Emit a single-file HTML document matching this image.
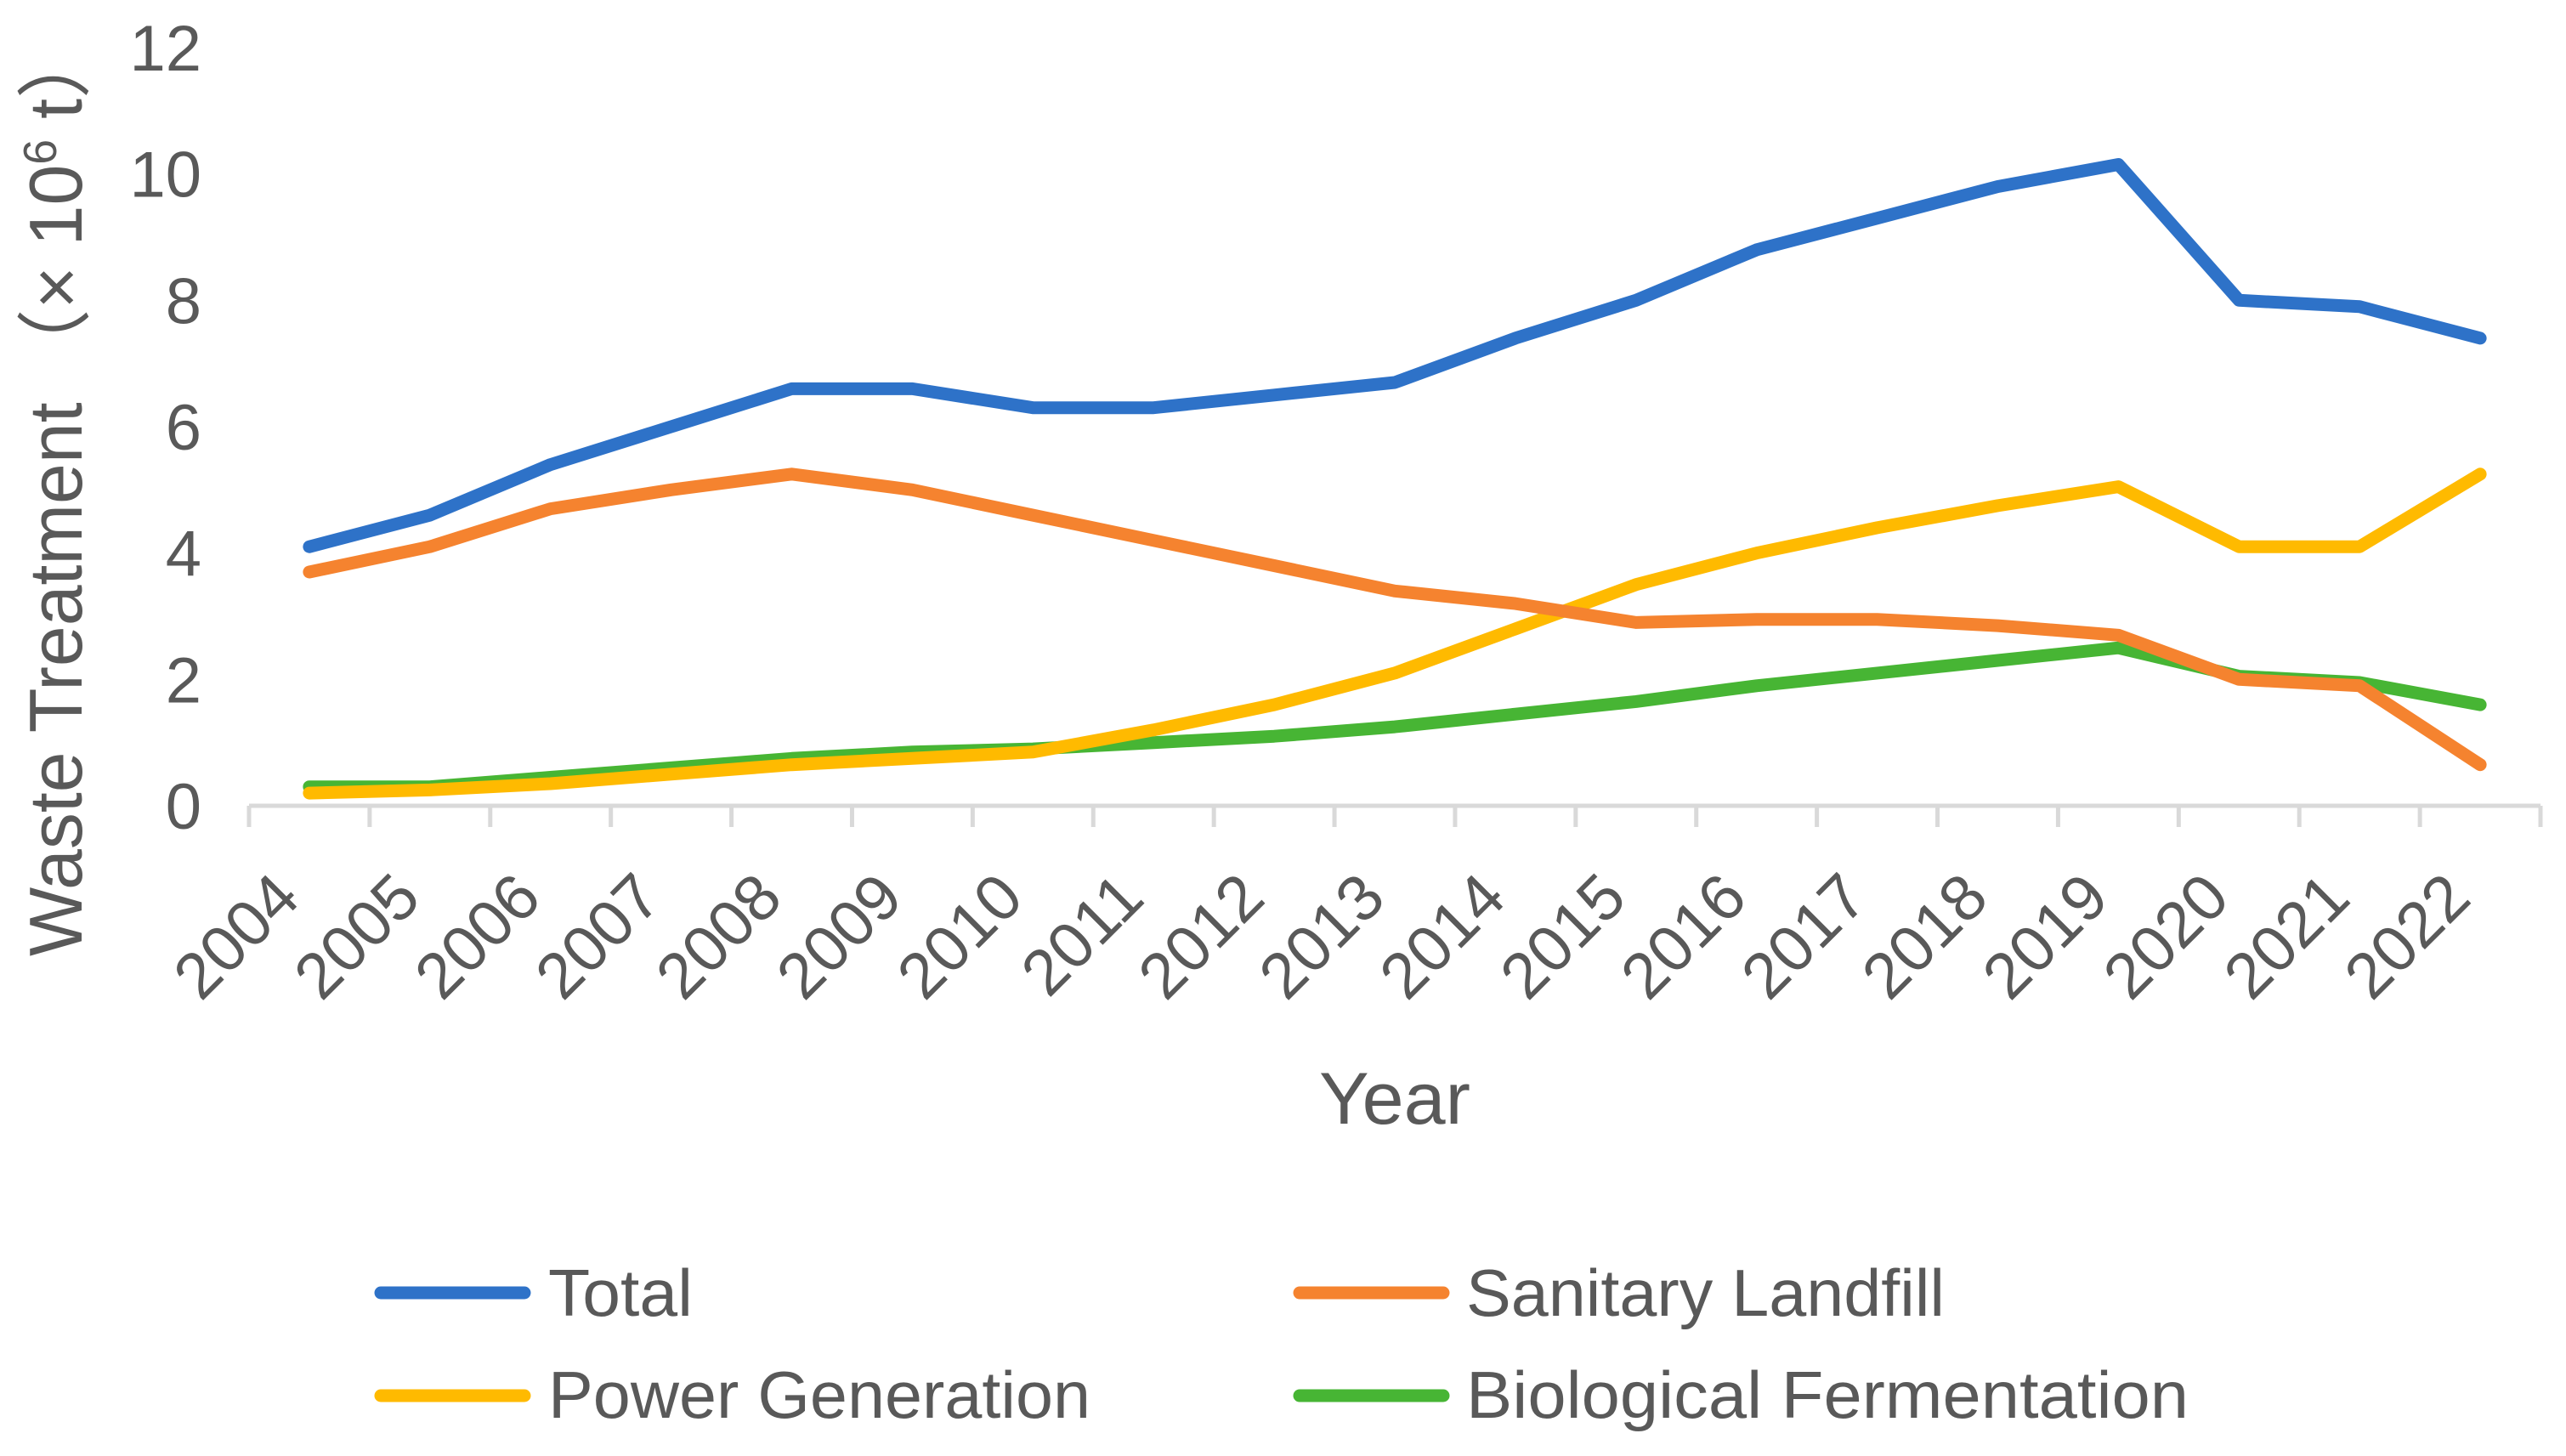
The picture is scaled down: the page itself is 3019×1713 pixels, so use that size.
<!DOCTYPE html>
<html><head><meta charset="utf-8"><style>
html,body{margin:0;padding:0;background:#fff}
svg{display:block}
text{font-family:"Liberation Sans","Noto Sans CJK SC",sans-serif;fill:#595959}
</style></head><body>
<svg id="chart" width="3019" height="1713" viewBox="0 0 3019 1713" xmlns="http://www.w3.org/2000/svg">
<g id="axes"></g><g id="series"></g>
<text transform="translate(96,1125) rotate(-90)" font-size="88" textLength="1095" lengthAdjust="spacingAndGlyphs">Waste Treatment （× 10<tspan font-size="55" dy="-30">6</tspan><tspan dy="30"> t）</tspan></text>
<text x="1641" y="1322" font-size="86" text-anchor="middle" textLength="178" lengthAdjust="spacingAndGlyphs">Year</text>
<g id="legend"></g>
</svg>
<script>
const categories = ["2004","2005","2006","2007","2008","2009","2010","2011","2012","2013","2014","2015","2016","2017","2018","2019","2020","2021","2022"];
const totalValues = [4.1,4.6,5.4,6.0,6.6,6.6,6.3,6.3,6.5,6.7,7.4,8.0,8.8,9.3,9.8,10.15,8.0,7.9,7.4];
const landfillValues = [3.7,4.1,4.7,5.0,5.25,5.0,4.6,4.2,3.8,3.4,3.2,2.9,2.95,2.95,2.85,2.7,2.0,1.9,0.65];
const powerValues = [0.2,0.25,0.35,0.5,0.65,0.75,0.85,1.2,1.6,2.1,2.8,3.5,4.0,4.4,4.75,5.05,4.1,4.1,5.25];
const bioValues = [0.3,0.3,0.45,0.6,0.75,0.85,0.9,1.0,1.1,1.25,1.45,1.65,1.9,2.1,2.3,2.5,2.05,1.95,1.6];
const yTicks = [0,2,4,6,8,10,12];
const seriesNames = ["Total","Sanitary Landfill","Power Generation","Biological Fermentation"];

const NS="http://www.w3.org/2000/svg";
const X0=293,X1=2989,Y0=948,Y12=56;
const band=(X1-X0)/categories.length;
function xScale(i){return X0+band*(i+0.5);}
function yScale(v){return Y0-(Y0-Y12)*v/12;}
function mk(tag,attrs,parent){const e=document.createElementNS(NS,tag);for(const k in attrs)e.setAttribute(k,attrs[k]);parent.appendChild(e);return e;}
const axes=document.getElementById('axes');
const axisLine=mk('line',{x1:X0,x2:X1,y1:Y0,y2:Y0,stroke:'#d9d9d9','stroke-width':5},axes);


for(let i=0;i<=categories.length;i++){
  const x=X0+band*i;
  const t=mk('line',{x1:x,x2:x,y1:Y0,y2:Y0+25,stroke:'#d9d9d9','stroke-width':5},axes);
  
  
}
categories.forEach((c,i)=>{
  const x=xScale(i)-8,y=1060;
  const t=mk('text',{x:x,y:y,'font-size':76,'text-anchor':'end',transform:`rotate(-45 ${x} ${y})`},axes);
  t.textContent=c;
  
  
});
yTicks.forEach(v=>{
  const t=mk('text',{x:237,y:yScale(v)+27,'font-size':76,'text-anchor':'end'},axes);
  t.textContent=v;
  
  
});
const colors=['#2E72C8','#F5832F','#FFBA00','#47B534'];
const data=[totalValues,landfillValues,powerValues,bioValues];
const sg=document.getElementById('series');
const order=[3,2,1,0];
order.forEach(k=>{
  const pts=data[k].map((v,i)=>xScale(i).toFixed(1)+','+yScale(v).toFixed(1)).join(' ');
  const p=mk('polyline',{points:pts,fill:'none',stroke:colors[k],'stroke-width':15,'stroke-linejoin':'round','stroke-linecap':'round'},sg);
  
  
});
const lg=document.getElementById('legend');
const lpos=[[441,1521,645,1548,170],[1522,1521,1725,1548,563],[441,1642,645,1668,638],[1522,1642,1725,1668,850]];
seriesNames.forEach((n,k)=>{
  const [lx,ly,tx,ty,tw]=lpos[k];
  const l=mk('line',{x1:lx+7,x2:lx+176,y1:ly,y2:ly,stroke:colors[k],'stroke-width':15,'stroke-linecap':'round'},lg);
  
  
  const t=mk('text',{x:tx,y:ty,'font-size':78,textLength:tw,lengthAdjust:'spacingAndGlyphs'},lg);
  t.textContent=n;
  
  
});
</script>
</body></html>
